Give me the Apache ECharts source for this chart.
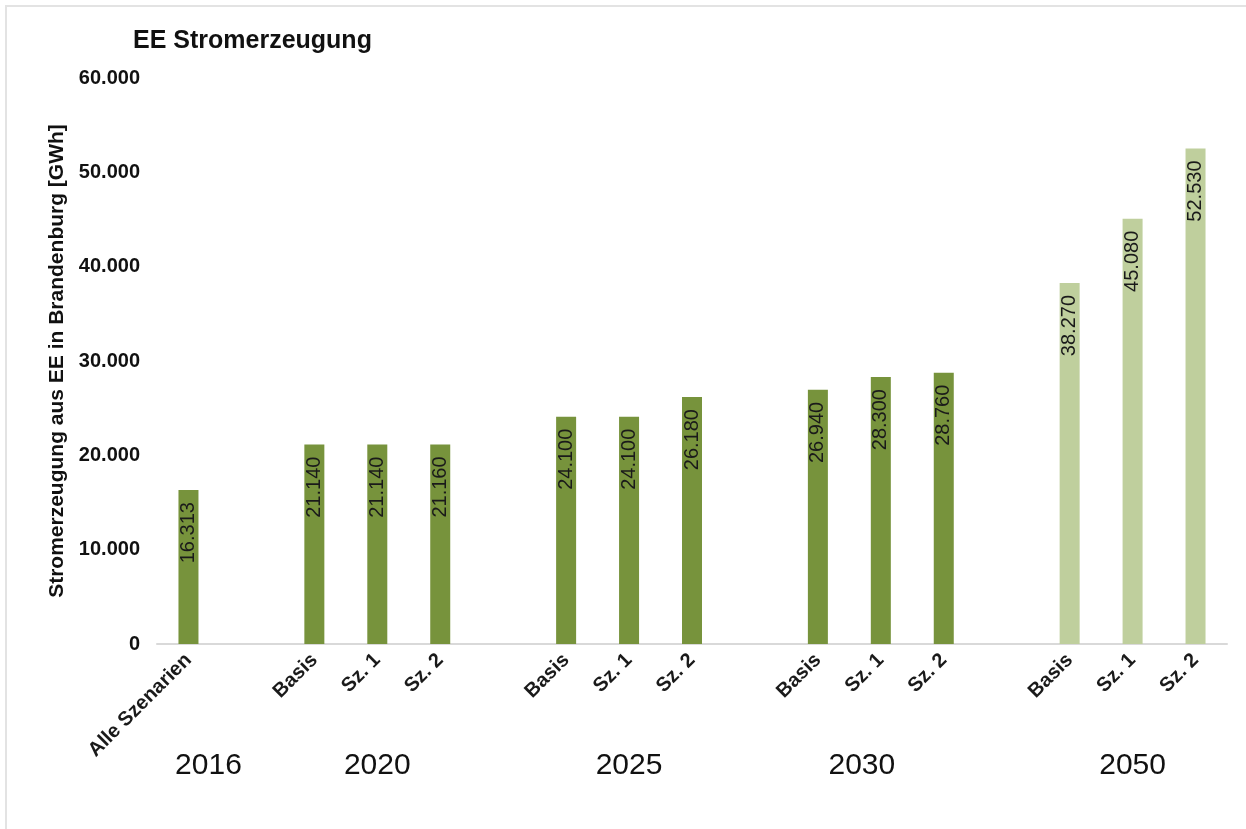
<!DOCTYPE html>
<html>
<head>
<meta charset="UTF-8">
<title>EE Stromerzeugung</title>
<script src="https://cdn.jsdelivr.net/npm/echarts@6/dist/echarts.min.js"></script>
<style>
body { margin: 0; padding: 0; background: #fff; }
#main { width: 1246px; height: 829px; }
</style>
</head>
<body>
<div id="main"></div>
<script>
// Slots along the x axis, empty slots separate the year groups
var scenarios = ['Alle Szenarien', '', 'Basis', 'Sz. 1', 'Sz. 2', '', 'Basis', 'Sz. 1', 'Sz. 2', '', 'Basis', 'Sz. 1', 'Sz. 2', '', 'Basis', 'Sz. 1', 'Sz. 2'];
var groupOf = ['2016', '', '2020', '2020', '2020', '', '2025', '2025', '2025', '', '2030', '2030', '2030', '', '2050', '2050', '2050'];
var yearLabels = ['2016', '', '', '2020', '', '', '', '2025', '', '', '', '2030', '', '', '', '2050', ''];
var values = [16313, null, 21140, 21140, 21160, null, 24100, 24100, 26180, null, 26940, 28300, 28760, null, 38270, 45080, 52530];
var yTicks = [0, 10000, 20000, 30000, 40000, 50000, 60000];

var font = 'Liberation Sans, Arial, sans-serif';
var dark = '#77933C';
var light = '#BFCF9D';

function fmt(v) {
    return String(v).replace(/\B(?=(\d{3})+(?!\d))/g, '.');
}

var chart = echarts.init(document.getElementById('main'));
var option = {
    backgroundColor: '#fff',
    animation: false,
    title: {
        text: 'EE Stromerzeugung',
        left: 128,
        top: 24,
        textStyle: { fontFamily: font, fontSize: 25, fontWeight: 'bold', color: '#111' }
    },
    graphic: [{
        type: 'rect',
        shape: { x: 6, y: 6, width: 1400, height: 1000 },
        style: { fill: 'none', stroke: '#E3E3E3', lineWidth: 2 },
        silent: true
    }],
    grid: { left: 157, right: 19, top: 78, bottom: 185 },
    xAxis: [{
        type: 'category',
        data: scenarios,
        axisLine: { lineStyle: { color: '#D9D9D9', width: 2 } },
        axisTick: { show: false },
        axisLabel: {
            interval: 0,
            rotate: 45,
            margin: 13,
            fontFamily: font,
            fontSize: 20,
            fontWeight: 'bold',
            color: '#1a1a1a'
        }
    }, {
        type: 'category',
        data: yearLabels,
        position: 'bottom',
        axisLine: { show: false },
        axisTick: { show: false },
        axisLabel: {
            interval: 0,
            margin: 107,
            fontFamily: font,
            fontSize: 30,
            color: '#111',
            // 2016 and 2030 sit a little off their group centre in the original
            formatter: function (v) {
                if (v === '2016') return '{r|' + v + '}';
                if (v === '2030') return '{l|' + v + '}';
                return v;
            },
            rich: {
                r: { fontFamily: font, fontSize: 30, color: '#111', padding: [0, 0, 0, 40] },
                l: { fontFamily: font, fontSize: 30, color: '#111', padding: [0, 38, 0, 0] }
            }
        }
    }],
    yAxis: {
        type: 'value',
        min: yTicks[0],
        max: yTicks[yTicks.length - 1],
        interval: yTicks[1] - yTicks[0],
        name: 'Stromerzeugung aus EE in Brandenburg [GWh]',
        nameLocation: 'middle',
        nameGap: 85,
        nameTextStyle: { fontFamily: font, fontSize: 21, fontWeight: 'bold', color: '#111' },
        axisLine: { show: false },
        axisTick: { show: false },
        splitLine: { show: false },
        axisLabel: {
            margin: 17,
            fontFamily: font,
            fontSize: 20,
            fontWeight: 'bold',
            color: '#111',
            formatter: function (v) { return fmt(v); }
        }
    },
    series: [{
        type: 'bar',
        data: values,
        barWidth: 20,
        itemStyle: {
            color: function (p) { return groupOf[p.dataIndex] === '2050' ? light : dark; }
        },
        label: {
            show: true,
            position: 'insideTop',
            rotate: 90,
            align: 'right',
            verticalAlign: 'middle',
            distance: 12,
            fontFamily: font,
            fontSize: 20,
            color: '#1a1a1a',
            formatter: function (p) { return fmt(p.value); }
        }
    }]
};
chart.setOption(option);
</script>
</body>
</html>
